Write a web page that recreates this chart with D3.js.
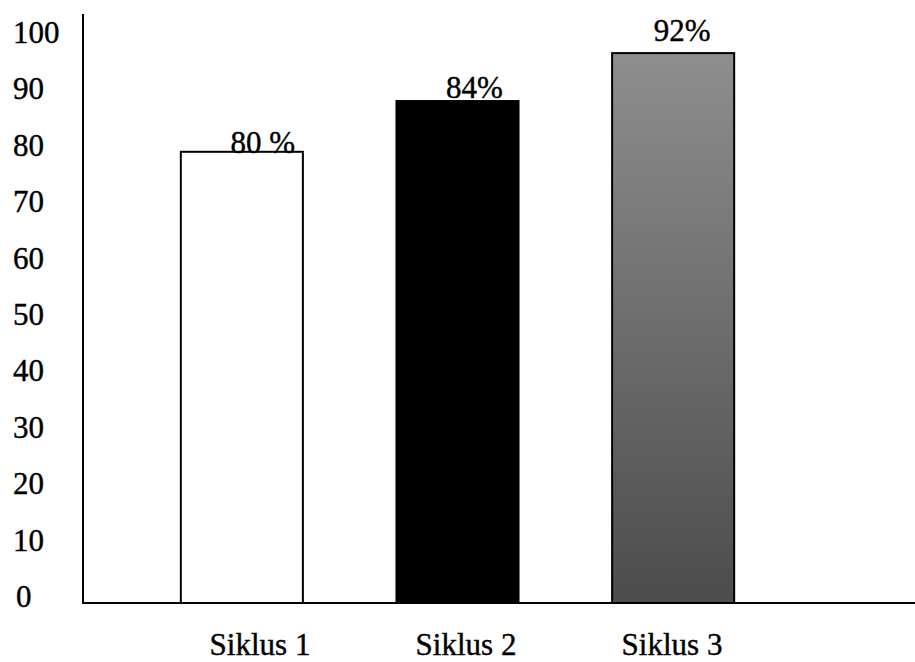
<!DOCTYPE html>
<html>
<head>
<meta charset="utf-8">
<script src="https://cdn.jsdelivr.net/npm/d3@7"></script>
<style>
  html, body { margin: 0; padding: 0; background: #fff; }
  svg text { font-family: "Liberation Serif", "Times New Roman", serif; fill: #000; stroke: #000; stroke-width: 0.4px; }
</style>
</head>
<body>
<svg id="chart" width="915" height="662"></svg>
<script>
const categories = ["Siklus 1", "Siklus 2", "Siklus 3"];
const values = [80, 89, 97.5];
const valueLabels = ["80 %", "84%", "92%"];
const yTicks = [0, 10, 20, 30, 40, 50, 60, 70, 80, 90, 100];

const svg = d3.select("#chart");

const defs = svg.append("defs");
const grad = defs.append("linearGradient")
  .attr("id", "gray3").attr("x1", 0).attr("y1", 0).attr("x2", 0).attr("y2", 1);
grad.append("stop").attr("offset", "0%").attr("stop-color", "#8e8e8e");
grad.append("stop").attr("offset", "100%").attr("stop-color", "#4c4c4c");

const fills = ["#ffffff", "#000000", "url(#gray3)"];

const y = d3.scaleLinear().domain([0, 100]).range([603, 39]);
const x = d3.scaleBand().domain(categories).range([73, 842]).paddingInner(0.434).paddingOuter(0.5);
const xLabel = d3.scalePoint().domain(categories).range([260, 672]);

// bars
svg.append("g").selectAll("rect")
  .data(categories)
  .join("rect")
  .attr("x", d => x(d))
  .attr("width", x.bandwidth())
  .attr("y", (d, i) => y(values[i]))
  .attr("height", (d, i) => y(0) - y(values[i]))
  .attr("fill", (d, i) => fills[i])
  .attr("stroke", "#000")
  .attr("stroke-width", 2);

// value labels
svg.append("g").selectAll("text")
  .data(categories)
  .join("text")
  .attr("x", (d, i) => x(d) + x.bandwidth() / 2 + [21, 17, 9][i])
  .attr("y", (d, i) => y(values[i]) + [1, -3, -12][i])
  .attr("text-anchor", "middle")
  .attr("font-size", 31)
  .text((d, i) => valueLabels[i]);

// y axis line
svg.append("line")
  .attr("x1", 83).attr("x2", 83)
  .attr("y1", 14).attr("y2", y(0) + 1)
  .attr("stroke", "#000").attr("stroke-width", 2);

// baseline
svg.append("line")
  .attr("x1", 83).attr("x2", 915)
  .attr("y1", y(0)).attr("y2", y(0))
  .attr("stroke", "#000").attr("stroke-width", 2);

// y tick labels
svg.append("g").selectAll("text")
  .data(yTicks)
  .join("text")
  .attr("x", d => d === 0 ? 16 : 13)
  .attr("y", d => y(d) + 4)
  .attr("font-size", 31)
  .text(d => d);

// x labels
svg.append("g").selectAll("text")
  .data(categories)
  .join("text")
  .attr("x", d => xLabel(d))
  .attr("y", 655)
  .attr("text-anchor", "middle")
  .attr("font-size", 31)
  .text(d => d);
</script>
</body>
</html>
